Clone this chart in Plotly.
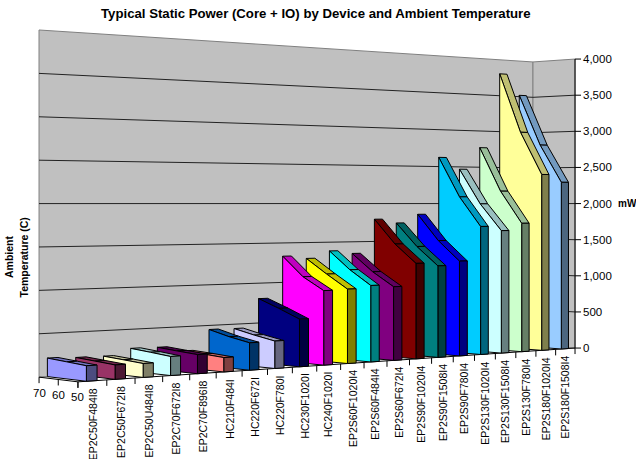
import numpy as np
import plotly.graph_objects as go

title = "Typical Static Power (Core + IO) by Device and Ambient Temperature"
categories = ["EP2C50F484I8","EP2C50F672I8","EP2C50U484I8","EP2C70F672I8","EP2C70F896I8",
              "HC210F484I","HC220F672I","HC220F780I","HC230F1020I","HC240F1020I",
              "EP2S60F1020I4","EP2S60F484I4","EP2S60F672I4","EP2S90F1020I4","EP2S90F1508I4",
              "EP2S90F780I4","EP2S130F1020I4","EP2S130F1508I4","EP2S130F780I4","EP2S180F1020I4","EP2S180F1508I4"]
temps = ["70","60","50"]
v70 = [214,202,198,272,267,205,450,446,806,1332,1297,1387,1348,1793,1741,1855,2625,2469,2770,3805,3519]
v60 = [195,183,180,248,245,190,382,385,700,1083,1108,1154,1120,1473,1435,1507,2090,1996,2169,2982,2813]
v50 = [175,164,160,222,225,171,329,333,584,923,931,966,940,1230,1190,1245,1697,1638,1734,2397,2293]
value_ticks = [0,500,1000,1500,2000,2500,3000,3500,4000]
colors = ["#9999FF","#993366","#FFFFCC","#CCFFFF","#660066","#FF8080","#0066CC","#CCCCFF","#000080","#FF00FF",
          "#FFFF00","#00FFFF","#800080","#800000","#008080","#0000FF","#00CCFF","#CCFFFF","#CCFFCC","#FFFF99","#99CCFF"]

VMAX = 4000.0
# Calibration of the oblique 3D view: (slot x, depth, value fraction) -> page pixel
cal = [((0,0,0),(78,382)),((1,0,0),(575,348)),((0,1,0),(39,377)),((1,1,0),(533,345)),
       ((0,1,1),(39,30)),((1,1,1),(533,62)),((1,0,1),(575,59))]
A=[];b=[]
for (X,Y,Z),(u,v) in cal:
    A.append([X,Y,Z,1,0,0,0,0,-u*X,-u*Y,-u*Z]);b.append(u)
    A.append([0,0,0,0,X,Y,Z,1,-v*X,-v*Y,-v*Z]);b.append(v)
p=np.linalg.lstsq(np.array(A,float),np.array(b,float),rcond=None)[0]
P=np.append(p,1.0).reshape(3,4)
def proj(X,Y,V):
    h=P@np.array([X,Y,V/VMAX,1.0])
    return h[0]/h[2],h[1]/h[2]

traces=[]
def poly(pts,fill=None,line="#000000",w=1,close=True):
    xs=[proj(*q)[0] for q in pts];ys=[proj(*q)[1] for q in pts]
    if close:
        xs.append(xs[0]);ys.append(ys[0])
    traces.append(go.Scatter(x=xs,y=ys,mode="lines",hoverinfo="skip",showlegend=False,
        fill="toself" if fill else None,fillcolor=fill,
        line=dict(color=line,width=w)))
def shade(c,f):
    r,g,b_=[int(c[i:i+2],16) for i in (1,3,5)]
    return "rgb(%d,%d,%d)"%(r*f,g*f,b_*f)

# walls and floor
poly([(0,1,0),(1,1,0),(1,1,VMAX),(0,1,VMAX)],"#C0C0C0","#808080")
poly([(1,1,0),(1,0,0),(1,0,VMAX),(1,1,VMAX)],"#C0C0C0","#808080")
for t in value_ticks[1:-1]:
    poly([(0,1,t),(1,1,t),(1,0,t)],None,"#222222",1,False)
poly([(0,1,0),(1,1,0),(1,0,0)],None,"#808080",1,False)
# axes
n=len(categories)
poly([(0,1,0),(0,0,0),(1,0,0)],None,"#000000",1,False)
poly([(1,0,0),(1,0,VMAX)],None,"#000000",1,False)

G0,G1=0.29,0.66
for i in range(n-1,-1,-1):
    a=(i+G0)/n;c=(i+G1)/n
    y70,y60,y50=v70[i],v60[i],v50[i]
    col=colors[i]
    poly([(a,1,y70),(c,1,y70),(c,.5,y60),(a,.5,y60)],shade(col,.75))
    poly([(a,.5,y60),(c,.5,y60),(c,0,y50),(a,0,y50)],shade(col,.75))
    poly([(c,0,0),(c,0,y50),(a,0,y50),(a,0,0)],shade(col,.5))
    poly([(a,1,0),(a,1,y70),(a,.5,y60),(a,0,y50),(a,0,0)],col)

F="Liberation Sans, Arial, sans-serif"
ann=[]
def text(x,y,s,size=10.5,bold=False,angle=0,xa="center",ya="middle"):
    ann.append(dict(x=x,y=y,text=("<b>%s</b>"%s) if bold else s,showarrow=False,textangle=angle,
        xanchor=xa,yanchor=ya,xref="x",yref="y",font=dict(family=F,size=size,color="#000000"),
        borderpad=0,borderwidth=0))

for k in range(n+1):
    x,y=proj(k/n,0,0)
    traces.append(go.Scatter(x=[x,x],y=[y,y+6],mode="lines",hoverinfo="skip",showlegend=False,line=dict(color="#000000",width=1)))
for k,lab in enumerate(categories):
    x,y=proj((k+.5)/n,0,0)
    text(x,y+7,lab,10.5,False,-90,"center","top")
for j,t in enumerate(temps):
    x,y=proj(0,1-j/2,0)
    traces.append(go.Scatter(x=[x,x],y=[y,y+6],mode="lines",hoverinfo="skip",showlegend=False,line=dict(color="#000000",width=1)))
    text(x,y+15.5,t,11.5)
for t in value_ticks:
    x,y=proj(1,0,t)
    traces.append(go.Scatter(x=[x,x+6],y=[y,y],mode="lines",hoverinfo="skip",showlegend=False,line=dict(color="#000000",width=1)))
    text(x+8,y,format(t,","),11.5,False,0,"left")
text(315.5,13,title,13.2,True)
text(617.5,203,"mW",10,True,0,"left")
text(9,257,"Ambient",10.5,True,-90)
text(23.5,258,"Temperature (C)",10.5,True,-90)

fig=go.Figure(traces)
fig.update_layout(width=636,height=459,margin=dict(l=0,r=0,t=0,b=0),paper_bgcolor="#FFFFFF",plot_bgcolor="#FFFFFF",
    xaxis=dict(range=[0,636],visible=False,fixedrange=True),
    yaxis=dict(range=[459,0],visible=False,fixedrange=True),annotations=ann,showlegend=False)
fig.write_html("out.html",config=dict(displayModeBar=False,responsive=False),
    post_script="document.body.style.margin='0';document.body.style.overflow='hidden';")
